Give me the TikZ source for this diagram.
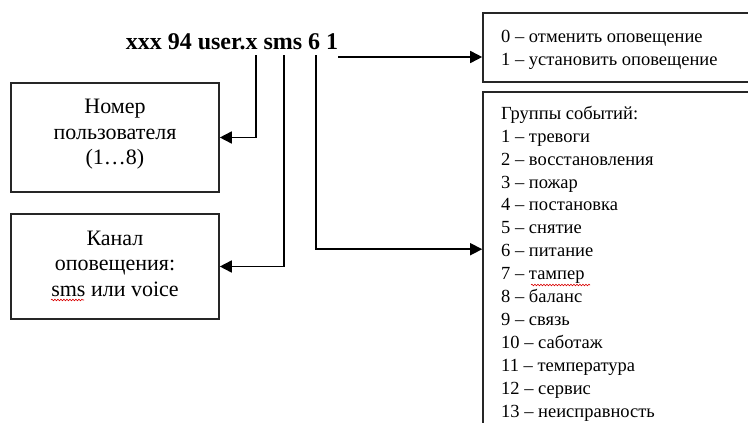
\documentclass[tikz,border=0pt]{standalone}
\usepackage{fontspec}
\setmainfont{Liberation Serif}
\usepackage{tikz}
\usetikzlibrary{arrows.meta,positioning,calc,decorations.pathmorphing}
\tikzset{
  box/.style={draw=black!85, line width=1.6pt, inner sep=0pt},
  boxtext/.style={align=center, inner sep=0pt, font=\fontsize{22}{25.5}\selectfont},
  listtext/.style={align=left, inner sep=0pt, anchor=west, font=\fontsize{18.5}{22.9}\selectfont},
  cmdtext/.style={inner sep=0pt, font=\fontsize{24}{28}\selectfont\bfseries},
  arrow/.style={-{Triangle[length=12pt,width=12pt]}, line width=1.6pt},
  squig/.style={draw=red!85!black, line width=0.6pt, decorate, decoration={snake, amplitude=0.8pt, segment length=3pt}}
}

\begin{document}
\begin{tikzpicture}[x=1pt, y=-1pt]
\useasboundingbox (0,0) rectangle (748,423);
\clip (0,0) rectangle (748,423);
% command line
\node[cmdtext] (cmd) at (232,42) {xxx 94 user.x sms 6 1};
\coordinate (pUser) at (256,55);
\coordinate (pChan) at (284,55);
\coordinate (pEvt) at (316,55);
\coordinate (pSet) at (338,57);
% left boxes
\node[box, minimum width=208pt, minimum height=109pt] (user) at (115,137.5) {};
\node[boxtext] (userT) at (115,134.5) {Номер\\пользователя\\(1…8)};
\node[box, minimum width=208pt, minimum height=105pt] (chan) at (115,266.5) {};
\node[boxtext] (chanT) at (115,263.5) {Канал\\оповещения:\\sms или voice};
% right boxes
\node[box, minimum width=287pt, minimum height=69pt] (set) at (626.5,47.5) {};
\node[listtext] (setT) at (501,49.5) {0 – отменить оповещение\\1 – установить оповещение};
\node[box, minimum width=287pt, minimum height=358pt] (groups) at (626.5,271) {};
\node[listtext] (groupsT) at (501,263.5) {Группы событий:\\1 – тревоги\\2 – восстановления\\3 – пожар\\4 – постановка\\5 – снятие\\6 – питание\\7 – тампер\\8 – баланс\\9 – связь\\10 – саботаж\\11 – температура\\12 – сервис\\13 – неисправность};
% connectors
\draw[arrow] (pUser) |- (user.east);
\draw[arrow] (pChan) |- (chan.east);
\draw[arrow] (pEvt) |- ([yshift=-158pt]groups.north west);
\draw[arrow] (pSet) -- (pSet -| set.west);
% spelling marks
\draw[squig] (51,300) -- (84,300);
\draw[squig] (531,285) -- (590,285);
\end{tikzpicture}
\end{document}
